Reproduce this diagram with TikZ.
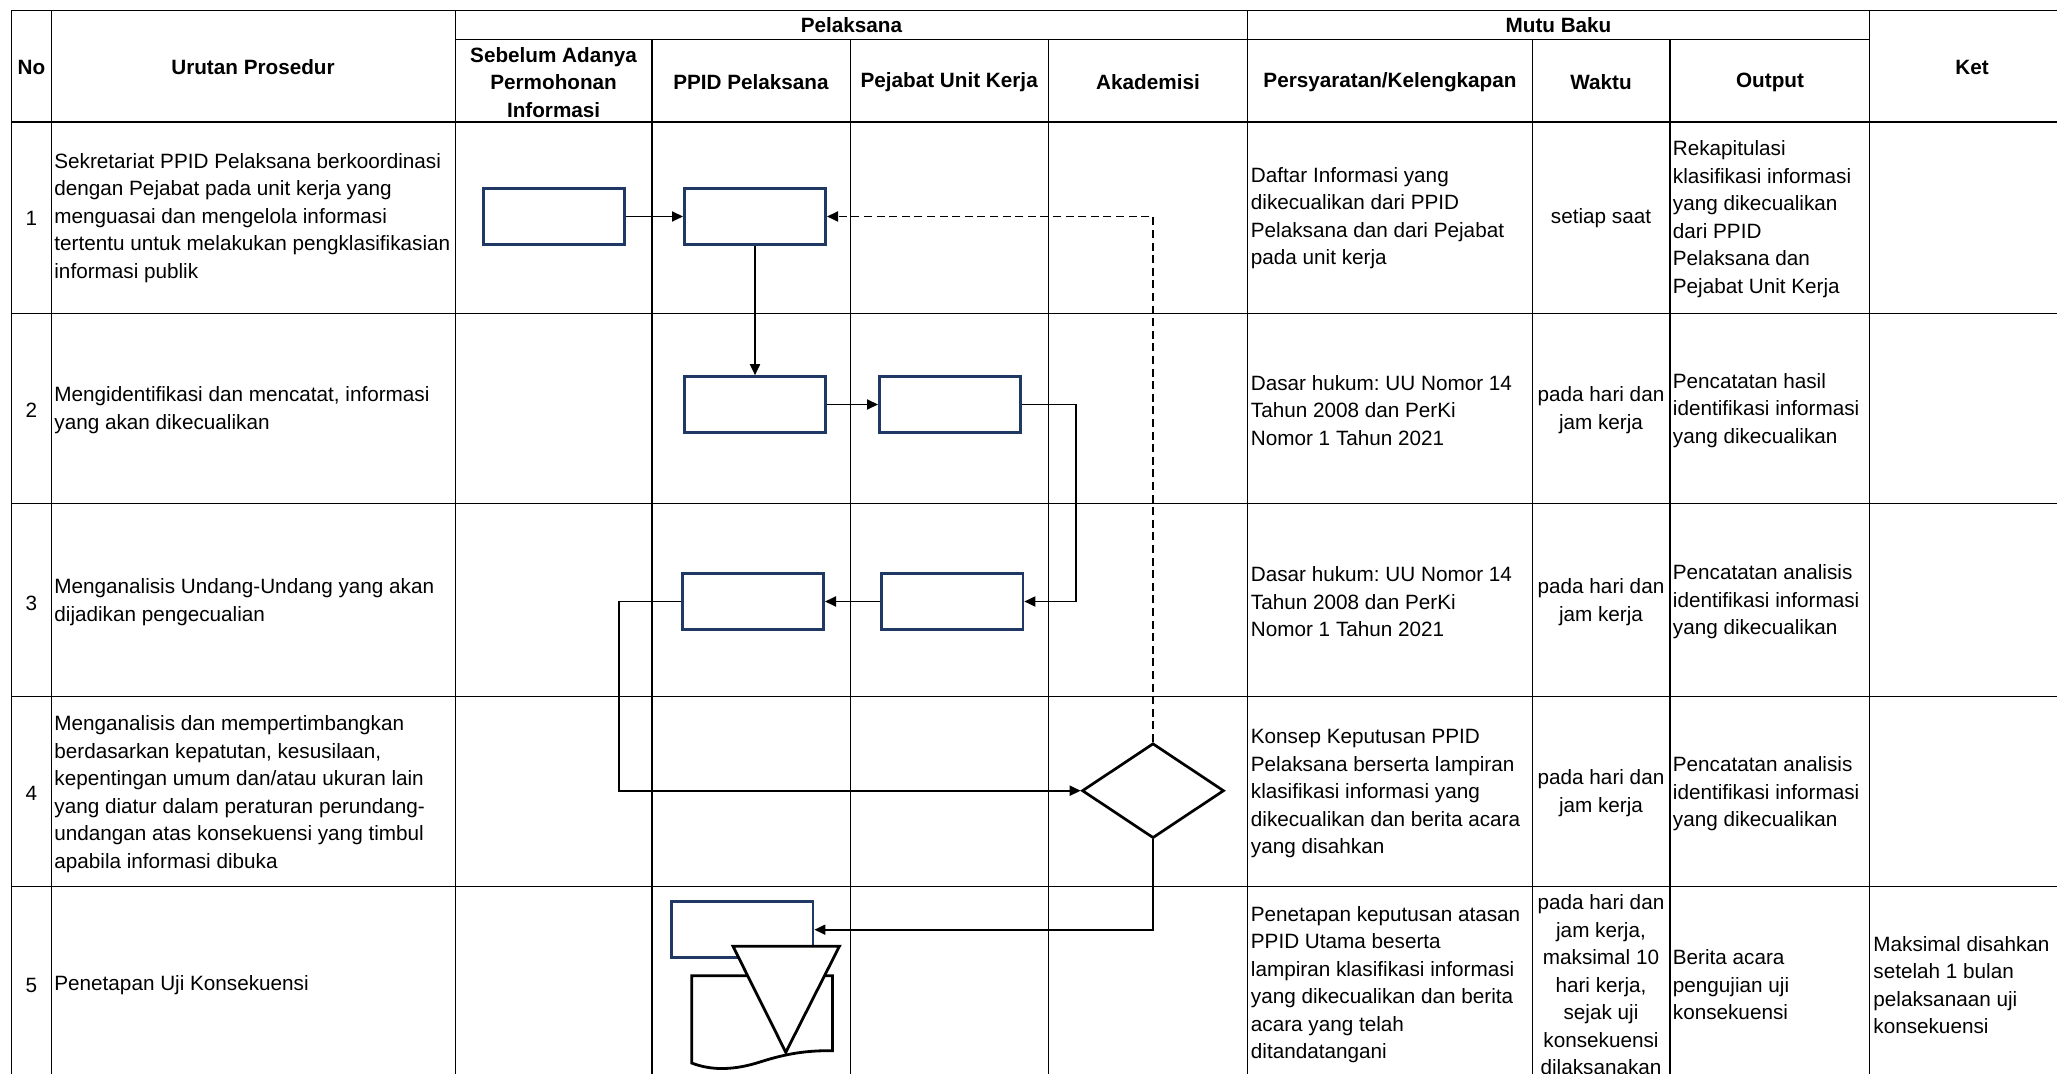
\documentclass[tikz,border=0pt]{standalone}
\usepackage{fontspec}
\setmainfont{Liberation Sans}
\usetikzlibrary{arrows.meta,shapes.geometric,calc}
\definecolor{navy}{RGB}{31,56,100}
\newcommand\cellfont{\fontsize{10.35pt}{13.75pt}\selectfont}
\frenchspacing
\begin{document}
\begin{tikzpicture}[x=0.5pt,y=-0.5pt,
  grid/.style={line width=0.55pt},
  pbox/.style={draw=navy,line width=1.3pt,fill=white,minimum width=70.7pt,minimum height=28pt,inner sep=0pt},
  conn/.style={line width=0.9pt,-{Triangle[length=5.5pt,width=5pt]}},
  dconn/.style={conn,dash pattern=on 4pt off 2.3pt},
  shapeline/.style={draw=black,line width=1.4pt,fill=white},
  txt/.style={inner sep=0pt,align=left,anchor=west,font=\cellfont},
  ctxt/.style={inner sep=0pt,align=center,font=\cellfont},
  htxt/.style={inner sep=0pt,align=center,font=\cellfont\bfseries},
]
\useasboundingbox (0,0) rectangle (2057,1074);
\fill[white] (0,0) rectangle (2057,1074);
\clip (0,0) rectangle (2057,1074);

% ---------- table grid ----------
\draw[grid] (11.8,10.5) -- (2074,10.5);
\draw[grid] (455.2,39.4) -- (1869.5,39.4);
\foreach \yy in {122,313.5,503.8,696.6,886.8}
  \draw[grid] (11.8,\yy) -- (2074,\yy);
\foreach \xx in {11.8,51.2,455.2,1247.6,1869.5,2074}
  \draw[grid] (\xx,10.5) -- (\xx,1100);
\foreach \xx in {652,850.1,1048.2,1532.3,1670}
  \draw[grid] (\xx,39.4) -- (\xx,1100);

% ---------- header ----------
\node[htxt] (hNo) at (31.5,67) {No};
\node[htxt] (hUr) at (253,67) {Urutan Prosedur};
\node[htxt] (hPel) at (851.4,25) {Pelaksana};
\node[htxt] (hMutu) at (1558.5,25) {Mutu Baku};
\node[htxt] (hKet) at (1972,67) {Ket};
\node[htxt] (hSeb) at (553.6,82.6) {Sebelum Adanya\\Permohonan\\Informasi};
\node[htxt] (hPPID) at (751,82.6) {PPID Pelaksana};
\node[htxt] (hPej) at (949.2,82.6) {Pejabat Unit Kerja};
\node[htxt] (hAk) at (1148,82.6) {Akademisi};
\node[htxt] (hPer) at (1390,82.6) {Persyaratan/Kelengkapan};
\node[htxt] (hW) at (1601,82.6) {Waktu};
\node[htxt] (hOut) at (1770,82.6) {Output};

% ---------- row 1 ----------
\node[ctxt] (n1) at (31.5,218) {1};
\node[txt] (u1) at (54,218) {Sekretariat PPID Pelaksana berkoordinasi\\dengan Pejabat pada unit kerja yang\\menguasai dan mengelola informasi\\tertentu untuk melakukan pengklasifikasian\\informasi publik};
\node[txt] (p1) at (1250.5,218) {Daftar Informasi yang\\dikecualikan dari PPID\\Pelaksana dan dari Pejabat\\pada unit kerja};
\node[ctxt] (w1) at (1601,218) {setiap saat};
\node[txt] (o1) at (1672.5,219) {Rekapitulasi\\klasifikasi informasi\\yang dikecualikan\\dari PPID\\Pelaksana dan\\Pejabat Unit Kerja};

% ---------- row 2 ----------
\node[ctxt] (n2) at (31.5,410.6) {2};
\node[txt] (u2) at (54,410) {Mengidentifikasi dan mencatat, informasi\\yang akan dikecualikan};
\node[txt] (p2) at (1250.5,410.6) {Dasar hukum: UU Nomor 14\\Tahun 2008 dan PerKi\\Nomor 1 Tahun 2021};
\node[ctxt] (w2) at (1601,410) {pada hari dan\\jam kerja};
\node[txt] (o2) at (1672.5,410.6) {Pencatatan hasil\\identifikasi informasi\\yang dikecualikan};

% ---------- row 3 ----------
\node[ctxt] (n3) at (31.5,603) {3};
\node[txt] (u3) at (54,602) {Menganalisis Undang-Undang yang akan\\dijadikan pengecualian};
\node[txt] (p3) at (1250.5,602) {Dasar hukum: UU Nomor 14\\Tahun 2008 dan PerKi\\Nomor 1 Tahun 2021};
\node[ctxt] (w3) at (1601,602) {pada hari dan\\jam kerja};
\node[txt] (o3) at (1672.5,602) {Pencatatan analisis\\identifikasi informasi\\yang dikecualikan};

% ---------- row 4 ----------
\node[ctxt] (n4) at (31.5,793.7) {4};
\node[txt] (u4) at (54,794) {Menganalisis dan mempertimbangkan\\berdasarkan kepatutan, kesusilaan,\\kepentingan umum dan/atau ukuran lain\\yang diatur dalam peraturan perundang-\\undangan atas konsekuensi yang timbul\\apabila informasi dibuka};
\node[txt] (p4) at (1250.5,794) {Konsep Keputusan PPID\\Pelaksana berserta lampiran\\klasifikasi informasi yang\\dikecualikan dan berita acara\\yang disahkan};
\node[ctxt] (w4) at (1601,793) {pada hari dan\\jam kerja};
\node[txt] (o4) at (1672.5,794) {Pencatatan analisis\\identifikasi informasi\\yang dikecualikan};

% ---------- row 5 ----------
\node[ctxt] (n5) at (31.5,985) {5};
\node[txt] (u5) at (54,985) {Penetapan Uji Konsekuensi};
\node[txt] (p5) at (1250.5,984.6) {Penetapan keputusan atasan\\PPID Utama beserta\\lampiran klasifikasi informasi\\yang dikecualikan dan berita\\acara yang telah\\ditandatangani};
\node[ctxt] (w5) at (1601,985) {pada hari dan\\jam kerja,\\maksimal 10\\hari kerja,\\sejak uji\\konsekuensi\\dilaksanakan};
\node[txt] (o5) at (1672.5,985) {Berita acara\\pengujian uji\\konsekuensi};
\node[txt] (k5) at (1873,985) {Maksimal disahkan\\setelah 1 bulan\\pelaksanaan uji\\konsekuensi};

% ---------- flow shapes ----------
\node[pbox] (A) at (554,216.5) {};
\node[pbox] (B) at (755,216.5) {};
\node[pbox] (C) at (755,404.5) {};
\node[pbox] (D) at (950,404.5) {};
\node[pbox] (E) at (753,601.5) {};
\node[pbox] (F) at (952.3,601.5) {};
\node[diamond,draw=black,line width=1.35pt,fill=white,minimum width=71pt,minimum height=47.4pt,inner sep=0pt] (dia) at (1153,790.7) {};
\node[pbox] (G) at (742.4,929.7) {};

% document symbol
\draw[shapeline] (691.7,975.7) -- (832.5,975.7) -- (832.5,1050.7)
  .. controls (808,1050.5) and (788,1053) .. (760,1062)
  .. controls (735,1070) and (712,1071) .. (691.7,1063) -- cycle;
% inverted triangle
\draw[shapeline] (733,946.3) -- (839.4,946.3) -- (785.8,1052.3) -- cycle;

% ---------- connectors ----------
\coordinate (k1) at (1076,404.5);
\coordinate (k2) at (618.6,601.5);
\draw[conn] (A) -- (B);
\draw[conn] (B) -- (C);
\draw[conn] (C) -- (D);
\draw[conn] (D.east) -- (k1) |- (F.east);
\draw[conn] (F) -- (E);
\draw[conn] (E.west) -- (k2) |- (dia.west);
\draw[dconn] (dia.north) |- (B.east);
\draw[conn] (dia.south) |- (G.east);
\end{tikzpicture}
\end{document}
